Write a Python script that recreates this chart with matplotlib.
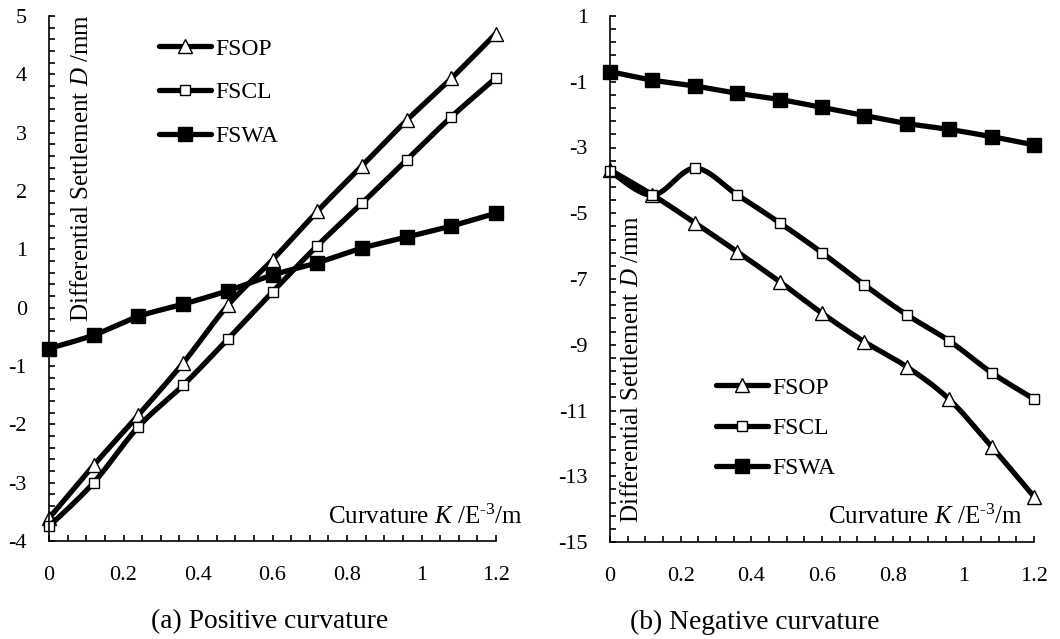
import numpy as np
import matplotlib
matplotlib.use("Agg")
import matplotlib.pyplot as plt
from matplotlib.ticker import FixedLocator, FuncFormatter

plt.rcParams['font.family'] = ['Liberation Serif', 'DejaVu Serif']
plt.rcParams['mathtext.fontset'] = 'custom'
plt.rcParams['mathtext.rm'] = 'Liberation Serif'
plt.rcParams['mathtext.it'] = 'Liberation Serif:italic'
plt.rcParams['axes.unicode_minus'] = False

# ---- data ----
curvature = [0, 0.12, 0.24, 0.36, 0.48, 0.60, 0.72, 0.84, 0.96, 1.08, 1.20]
series_names = ["FSOP", "FSCL", "FSWA"]

pos_fsop = [-3.61, -2.70, -1.84, -0.95, 0.04, 0.82, 1.65, 2.43, 3.21, 3.93, 4.70]
pos_fscl = [-3.75, -3.00, -2.04, -1.33, -0.54, 0.27, 1.06, 1.79, 2.53, 3.27, 3.94]
pos_fswa = [-0.70, -0.47, -0.15, 0.06, 0.29, 0.56, 0.77, 1.02, 1.21, 1.40, 1.62]

neg_fsop = [-3.68, -4.44, -5.29, -6.17, -7.08, -8.04, -8.91, -9.67, -10.66, -12.10, -13.62]
neg_fscl = [-3.72, -4.45, -3.63, -4.44, -5.29, -6.20, -7.18, -8.09, -8.88, -9.85, -10.65]
neg_fswa = [-0.69, -0.95, -1.13, -1.35, -1.54, -1.78, -2.03, -2.27, -2.45, -2.67, -2.92]

x_ticks = [0, 0.2, 0.4, 0.6, 0.8, 1.0, 1.2]
pos_yticks = [-4, -3, -2, -1, 0, 1, 2, 3, 4, 5]
neg_yticks = [-15, -13, -11, -9, -7, -5, -3, -1, 1]

N = 24  # samples per segment for smoothed line


def smooth(x, y, n=N):
    pts = np.column_stack([x, y]).astype(float)
    P = np.vstack([pts[0], pts, pts[-1]])
    out = []
    t = np.linspace(0, 1, n, endpoint=False)[:, None]
    for i in range(len(pts) - 1):
        p0, p1, p2, p3 = P[i], P[i + 1], P[i + 2], P[i + 3]
        c1 = p1 + (p2 - p0) / 6.0
        c2 = p2 - (p3 - p1) / 6.0
        seg = ((1 - t) ** 3) * p1 + 3 * ((1 - t) ** 2) * t * c1 + 3 * (1 - t) * t ** 2 * c2 + t ** 3 * p2
        out.append(seg)
    out.append(pts[-1:])
    s = np.vstack(out)
    return s[:, 0], s[:, 1]


W, H = 1060, 639
fig = plt.figure(figsize=(W / 100, H / 100), dpi=100)


def fx(px):
    return px / W


def fy(py):
    return 1 - py / H


ax1 = fig.add_axes([fx(49), fy(541), fx(496) - fx(49), fy(16) - fy(541)])
ax2 = fig.add_axes([fx(610), fy(542), fx(1034) - fx(610), fy(16) - fy(542)])

styles = [
    dict(marker='^', ms=10, mfc='white', mec='black', mew=1.0),
    dict(marker='s', ms=7.5, mfc='white', mec='black', mew=1.0),
    dict(marker='s', ms=9.5, mfc='black', mec='black', mew=1.0),
]

LW = 3.8
tick_fs = 16

for ax, data, yticks, minor in [
    (ax1, [pos_fsop, pos_fscl, pos_fswa], pos_yticks, 0.2),
    (ax2, [neg_fsop, neg_fscl, neg_fswa], neg_yticks, 0.4),
]:
    for name, vals, st in zip(series_names, data, styles):
        sx, sy = smooth(curvature, vals)
        ax.plot(sx, sy, color='black', lw=LW, markevery=N, label=name,
                clip_on=False, solid_capstyle='round', **st)
    ax.set_xlim(x_ticks[0], x_ticks[-1])
    ax.set_ylim(yticks[0], yticks[-1])
    for s in ['top', 'right']:
        ax.spines[s].set_visible(False)
    for s in ['left', 'bottom']:
        ax.spines[s].set_linewidth(1.2)
    ax.xaxis.set_major_locator(FixedLocator(x_ticks))
    ax.xaxis.set_minor_locator(FixedLocator(np.arange(0, 1.2001, 0.05)))
    ax.yaxis.set_major_locator(FixedLocator(yticks))
    ax.yaxis.set_minor_locator(FixedLocator(np.arange(yticks[0], yticks[-1] + 1e-6, minor)))
    ax.xaxis.set_major_formatter(FuncFormatter(lambda v, p: f"{v:g}"))
    ax.yaxis.set_major_formatter(FuncFormatter(lambda v, p: f"{v:g}"))
    ax.tick_params(which='both', direction='in', length=4, width=1.2,
                   top=False, right=False)
    ax.tick_params(axis='y', which='major', pad=16, labelsize=tick_fs)
    ax.tick_params(axis='x', which='major', pad=18, labelsize=tick_fs)

leg_kw = dict(frameon=False, fontsize=17, handlelength=2.2, handletextpad=0.2,
              borderaxespad=0, borderpad=0)
ax1.legend(loc='upper left', bbox_to_anchor=(fx(159), fy(38)),
           bbox_transform=fig.transFigure, labelspacing=0.95, **leg_kw)
ax2.legend(loc='upper left', bbox_to_anchor=(fx(716), fy(377)),
           bbox_transform=fig.transFigure, labelspacing=0.8, **leg_kw)

xlab = "Curvature $K$ /E$^{\u20103}$/m"
ylab = r"Differential Settlement $D$ /mm"
lab_fs = 18
fig.text(fx(523), fy(517), xlab, ha='right', va='center', fontsize=lab_fs)
fig.text(fx(1023), fy(517), xlab, ha='right', va='center', fontsize=lab_fs)
fig.text(fx(82), fy(14), ylab, rotation=90, ha='center', va='top', fontsize=lab_fs)
fig.text(fx(632), fy(523), ylab, rotation=90, ha='center', va='bottom', fontsize=lab_fs)

fig.text(fx(270), fy(622), "(a) Positive curvature", ha='center', va='center', fontsize=19.8)
fig.text(fx(755), fy(622), "(b) Negative curvature", ha='center', va='center', fontsize=19.8)

fig.savefig("out.png", dpi=100)
